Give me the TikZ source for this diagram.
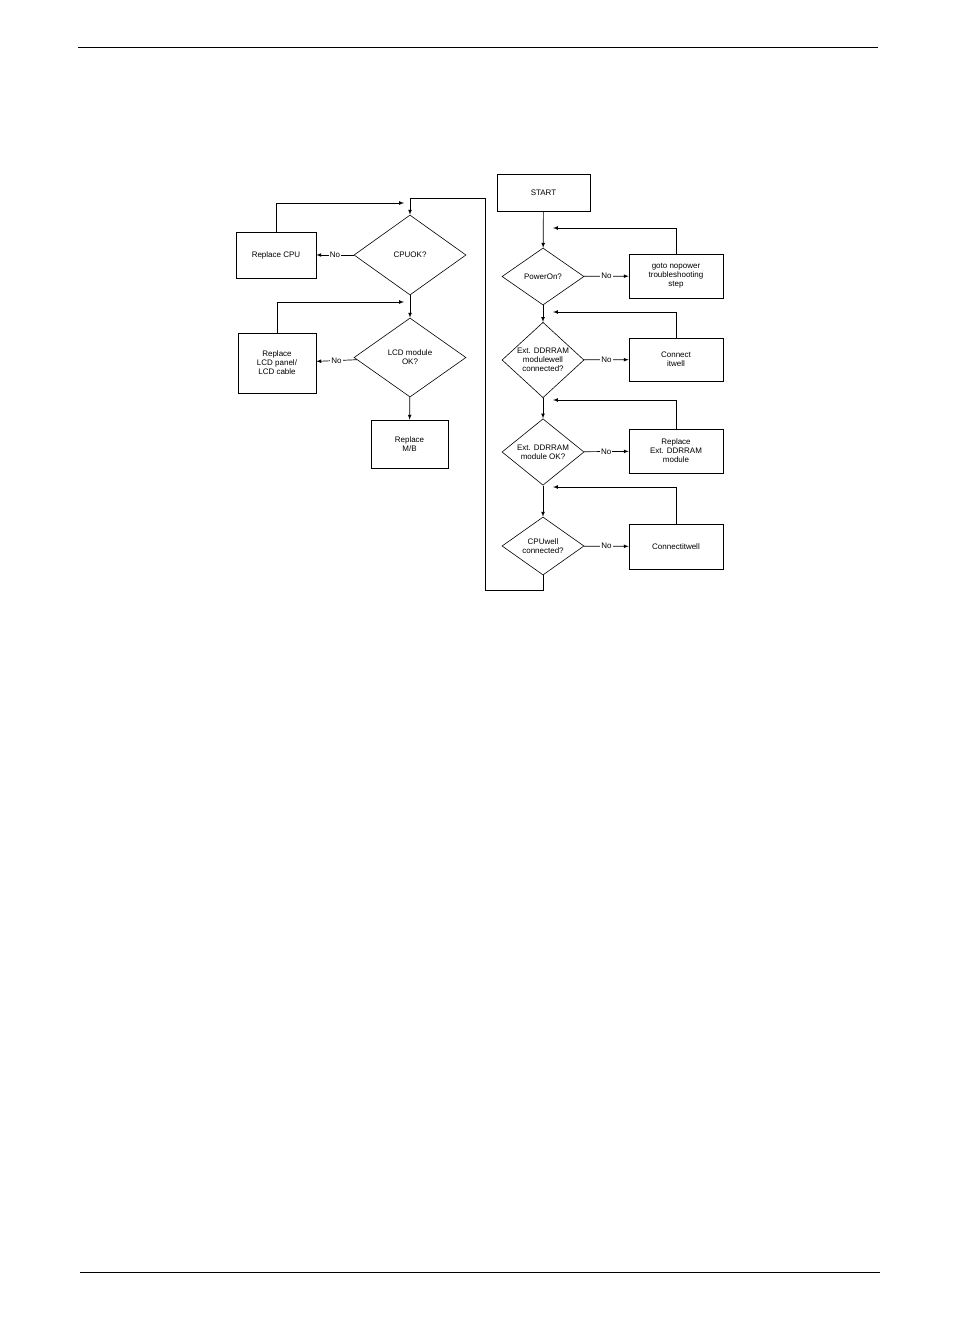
\documentclass[tikz,border=0pt]{standalone}
\usepackage{fontspec}
\setmainfont{Liberation Sans}
\usetikzlibrary{shapes.geometric}
\tikzset{
	box/.style={draw,rectangle,align=center,font=\fontsize{8}{9}\selectfont,inner sep=0pt},
	choice/.style={draw,diamond,align=center,font=\fontsize{8}{9}\selectfont,inner sep=0pt},
	flow/.style={-latex,line width=.7pt},
	no/.style={font=\fontsize{8}{9}\selectfont,fill=white,inner sep=1pt}
}
\begin{document}
\begin{tikzpicture}[x=1pt,y=-1pt,line width=.6pt]
	\useasboundingbox (0,0) rectangle (954,1336);
	% page rules
	\draw[line width=.8pt] (78,47) -- (878,47);
	\draw[line width=.8pt] (80,1272) -- (880,1272);
	% right column
	\node[box,minimum width=93,minimum height=37] (start) at (543.5,192.5) {START};
	\node[choice,minimum width=82,minimum height=57] (pwr) at (543,276.5) {PowerOn?};
	\node[choice,minimum width=82,minimum height=56] (ddrcon) at (543,360) {Ext. DDRRAM\\modulewell\\connected?};
	\node[choice,minimum width=82,minimum height=56] (ddrok) at (543,452) {Ext. DDRRAM\\module OK?};
	\node[choice,minimum width=82,minimum height=58] (cpucon) at (543,546) {CPUwell\\connected?};
	\node[box,minimum width=94,minimum height=44] (nopwr) at (676,276) {goto nopower\\troubleshooting\\step};
	\node[box,minimum width=94,minimum height=43] (conn) at (676,359.5) {Connect\\itwell};
	\node[box,minimum width=94,minimum height=44] (repddr) at (676,451) {Replace\\Ext. DDRRAM\\module};
	\node[box,minimum width=94,minimum height=45] (conncpu) at (676,546.5) {Connectitwell};
	% left column
	\node[choice,minimum width=112,minimum height=80] (cpuok) at (410,255) {CPUOK?};
	\node[choice,minimum width=112,minimum height=79] (lcdok) at (410,357.5) {LCD module\\OK?};
	\node[box,minimum width=80,minimum height=46] (repcpu) at (276,255) {Replace CPU};
	\node[box,minimum width=78,minimum height=60] (replcd) at (277,363) {Replace\\LCD panel/\\LCD cable};
	\node[box,minimum width=77,minimum height=48] (repmb) at (409.5,444) {Replace\\M/B};
	% yes paths
	\draw[flow] (start) -- (pwr);
	\draw[flow] (pwr) -- (ddrcon);
	\draw[flow] (ddrcon) -- (ddrok);
	\draw[flow] (ddrok) -- (cpucon);
	\draw[flow] (cpucon.south) -- (543,590) -- (485,590) -- (485,198) -- (410,198) -- (cpuok.north);
	\draw[flow] (cpuok) -- (lcdok);
	\draw[flow] (lcdok) -- (repmb);
	% no paths
	\foreach \d/\b in {pwr/nopwr,ddrcon/conn,ddrok/repddr,cpucon/conncpu}
		\draw[flow] (\d) -- node[no]{No} (\b);
	\foreach \d/\b in {cpuok/repcpu,lcdok/replcd}
		\draw[flow] (\d) -- node[no]{No} (\b);
	% back loops
	\foreach \b/\y in {nopwr/228,conn/312,repddr/400,conncpu/487}
		\draw[flow] (\b.north) |- (553,\y);
	\draw[flow] (repcpu.north) |- (404,203);
	\draw[flow] (replcd.north) |- (404,302);
\end{tikzpicture}
\end{document}
